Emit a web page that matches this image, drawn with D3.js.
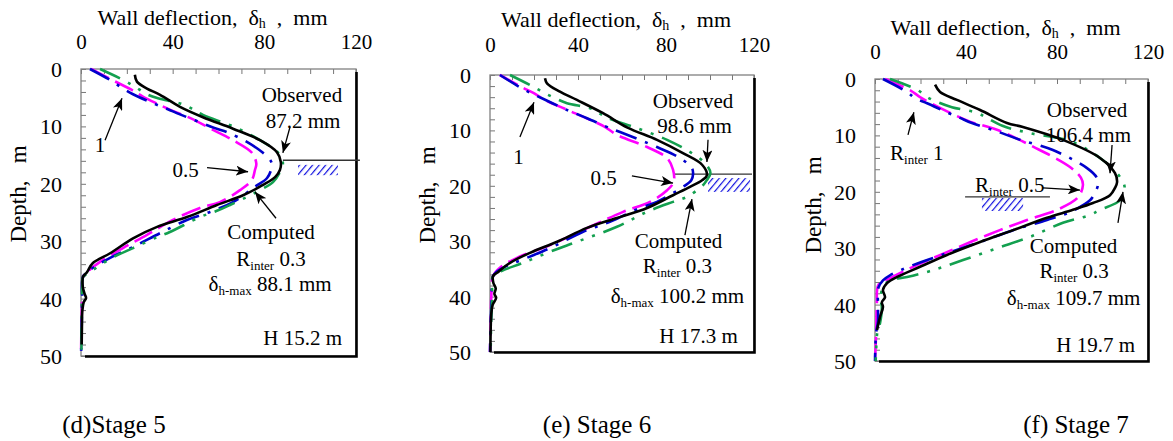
<!DOCTYPE html>
<html><head><meta charset="utf-8">
<script src="https://cdn.jsdelivr.net/npm/d3@7"></script>
<style>
body{margin:0;background:#fff}
svg{display:block}
text{font-family:"Liberation Serif","Times New Roman",serif;fill:#000}
</style>
</head><body>
<svg id="c" width="1173" height="441"></svg>
<script>
// ---------- DATA ----------
const deflectionTicks = [0, 40, 80, 120];
const depthTicks = [0, 10, 20, 30, 40, 50];
const stageLabels = ["(d)Stage 5", "(e) Stage 6", "(f) Stage 7"];
const observedMax = ["87.2 mm", "98.6 mm", "106.4 mm"];
const computedMax = ["88.1 mm", "100.2 mm", "109.7 mm"];
const wallDepth = ["H 15.2 m", "H 17.3 m", "H 19.7 m"];

// [deflection mm, depth m]
const stage5Observed = [[23.5,1.0],[24.4,2.2],[28.8,3.4],[34.5,4.5],[43.2,6.6],[53.2,8.4],[66.3,10.4],[78.1,12.4],[85.5,14.5],[87.2,16.2],[86.8,17.6],[84.8,18.8],[79.4,20.2],[70.7,22.0],[59.3,23.7],[46.2,25.8],[33.2,27.5],[22.7,29.5],[12.7,32.1],[5.2,33.8],[2.6,35.4],[0.9,36.2],[0.8,38.0],[1.6,39.2],[2.2,39.9],[1.2,40.6],[0.6,42.0],[0.4,45.0],[0.3,48.0]];
const stage5R03 = [[8.3,0],[18.4,1.9],[23.6,3.1],[28.8,4.4],[33.6,5.1],[44.1,6.1],[49.3,7.1],[53.2,8.0],[67.5,10.2],[79.4,12.7],[86.0,14.6],[88.1,16.4],[86.5,18.2],[83.8,19.7],[78.1,21.1],[72.4,22.3],[65.0,23.7],[59.3,24.7],[51.9,25.8],[38.8,28.4],[33.2,29.3],[22.7,31.2],[13.5,32.9],[3.1,35.6],[0.9,36.2],[0.5,38.0],[0.3,42.0],[0.2,46.0],[0.2,50.0]];
const stage5R05 = [[4.4,0],[16.0,2.4],[22.0,3.6],[27.0,4.8],[33.0,6.0],[40.0,7.3],[48.0,8.6],[57.6,10.6],[66.3,12.4],[74.6,14.6],[76.5,16.5],[75.9,17.6],[74.6,19.3],[69.4,21.1],[60.6,23.2],[51.9,24.2],[40.1,26.3],[28.8,28.9],[18.3,31.2],[8.3,33.6],[2.6,35.4],[0.9,36.2],[0.5,40.0],[0.2,45.0],[0,50.0]];
const stage5R1 = [[3.9,0],[13.5,2.1],[17.9,3.3],[22.7,4.4],[32.3,6.1],[37.9,7.0],[43.2,7.9],[58.5,10.3],[63.7,11.0],[72.4,12.7],[79.4,14.6],[82.8,16.0],[83.3,16.9],[81.2,19.0],[75.9,20.5],[66.3,23.2],[56.3,24.9],[46.2,26.3],[34.5,28.6],[22.7,31.0],[12.7,32.9],[3.9,35.0],[0.9,36.2],[0.5,40.0],[0.3,45.0],[0,50.0]];

const stage6Observed = [[25.0,0.6],[25.9,1.5],[31.8,3.0],[39.5,4.5],[51.4,6.9],[62.5,9.5],[75.9,11.7],[87.7,14.1],[96.4,16.2],[98.6,18.1],[96.4,19.0],[90.9,20.2],[83.2,21.7],[71.4,24.0],[57.7,25.8],[44.1,27.6],[30.5,30.1],[18.2,32.1],[9.1,33.9],[3.2,35.7],[1.4,36.3],[1.5,37.5],[2.6,38.5],[2.0,39.5],[2.8,40.2],[1.2,41.5],[0.6,43.0],[0.3,46.0],[0.2,50.0]];
const stage6R03 = [[9.1,0],[19.1,2.0],[23.6,3.0],[28.6,4.0],[35.0,5.1],[45.5,6.0],[50.9,7.2],[55.0,8.0],[66.8,9.6],[80.5,11.7],[90.9,13.9],[97.7,15.9],[100.2,17.7],[98.5,19.0],[96.8,19.9],[89.5,22.0],[83.2,22.9],[71.4,24.7],[57.7,27.4],[39.5,30.1],[27.3,31.9],[15.0,33.9],[4.5,35.5],[1.4,36.3],[1.0,40.0],[0.5,45.0],[0.3,50.0]];
const stage6R05 = [[4.5,0],[14.0,2.1],[19.5,3.2],[25.0,4.5],[34.0,6.1],[45.0,8.0],[52.0,9.3],[57.7,10.8],[71.4,13.0],[80.5,15.0],[83.2,17.1],[83.5,19.3],[80.5,20.8],[72.7,22.9],[60.5,24.7],[45.5,27.4],[27.3,30.7],[12.3,33.0],[4.5,34.8],[1.4,36.3],[0.6,40.0],[0.3,45.0],[0,50.0]];
const stage6R1 = [[4.5,0],[12.7,2.0],[18.2,3.2],[23.6,4.2],[33.2,6.0],[38.6,6.9],[44.1,7.8],[54.5,9.6],[59.1,10.3],[75.9,13.0],[86.4,15.0],[91.8,16.8],[92.3,17.9],[91.5,19.0],[87.7,20.2],[75.9,22.9],[68.2,24.0],[54.5,26.5],[42.3,28.3],[28.6,31.0],[16.8,33.0],[5.9,34.8],[1.4,36.3],[0.8,40.0],[0.3,45.0],[0,50.0]];

const stage7Observed = [[26.4,1.0],[28.6,2.3],[36.0,3.7],[46.2,5.5],[58.0,7.8],[65.0,8.5],[82.6,10.8],[98.9,14.0],[105.5,16.7],[106.4,18.3],[105.5,19.3],[103.3,20.6],[95.8,22.0],[87.0,23.2],[75.6,24.6],[60.7,26.8],[46.2,28.9],[31.6,31.2],[19.8,33.3],[9.7,35.1],[5.3,36.2],[3.5,37.4],[4.4,38.7],[3.0,39.6],[3.5,40.4],[2.2,42.2],[0.9,44.5]];
const stage7R03 = [[6.6,0],[18.5,1.9],[22.9,3.2],[28.1,4.2],[33.8,5.0],[44.8,6.0],[49.2,6.9],[56.0,8.3],[68.0,9.6],[85.7,11.0],[98.9,14.0],[106.4,16.7],[109.7,19.1],[107.7,21.5],[98.9,23.2],[94.5,24.1],[82.6,25.5],[68.1,28.0],[53.6,30.0],[38.7,32.1],[25.5,33.9],[14.1,35.1],[6.6,35.7],[3.5,36.9],[2.5,39.0],[3.0,40.5],[2.2,43.3],[1.0,45.0],[0.5,48.0],[0.3,50.0]];
const stage7R05 = [[4.5,0],[15.5,2.0],[19.8,3.2],[26.0,4.6],[34.0,6.2],[42.0,7.6],[53.6,9.0],[69.5,12.0],[85.7,15.6],[90.5,17.5],[91.4,18.8],[89.2,21.0],[80.0,23.2],[66.8,25.0],[49.2,27.7],[31.6,30.7],[16.7,33.3],[5.3,35.6],[1.5,36.5],[0.8,40.0],[0.5,45.0],[0,50.0]];
const stage7R1 = [[3.5,0],[14.1,2.3],[17.6,3.4],[22.9,4.3],[32.1,6.0],[37.4,6.9],[42.6,7.8],[53.0,9.2],[64.0,10.8],[78.2,12.6],[93.2,15.8],[97.5,17.5],[98.0,18.8],[96.5,20.3],[94.5,21.5],[85.7,23.6],[75.6,25.0],[60.7,26.8],[46.2,28.9],[31.6,30.9],[16.7,33.0],[6.6,34.8],[3.5,35.7],[1.5,37.0],[1.3,40.0],[1.3,43.0],[0.5,45.0],[0,50.0]];

// ---------- LAYOUT / STYLE ----------
const seriesStyle = {
  r05: {color:"#ff00ff", w:2.6, dash:"20,7"},
  r1:  {color:"#0000cc", w:2.6, dash:"22,9,3,9"},
  r03: {color:"#13a04f", w:2.6, dash:"22,9,3,9,3,9"},
  observed: {color:"#000000", w:2.6, dash:null}
};

const panels = [
  { box:{l:81,r:356,t:69,b:356}, titleY:25, tickY:49, yTitle:{x:26,y:194}, capX:114,
    series:{r05:stage5R05, r1:stage5R1, r03:stage5R03, observed:stage5Observed},
    texts:[
      {x:96.4,y:5.75,parts:[["Observed"]]},
      {x:96.9,y:10.3,parts:[[observedMax[0]]]},
      {x:45.6,y:18.8,parts:[["0.5"]]},
      {x:8.3,y:14.5,parts:[["1"]]},
      {x:82.9,y:29.6,parts:[["Computed"]]},
      {x:82.9,y:34.4,parts:[["R"],["inter",1],[" 0.3"]]},
      {x:82.5,y:38.7,parts:[["δ"],["h-max",1],[" "+computedMax[0]]]},
      {x:113.9,y:48.1,parts:[[wallDepth[0]]],anchor:"end"}
    ],
    arrows:[[91.2,10.1,88.1,14.6],[55,17.2,72.9,17.9],[10.5,12.4,17.9,5.1],[85.1,26,75.9,21.4]],
    hline:[88.1,121.7,15.9], hatch:[94.7,112.1,16.7,18.5] },
  { box:{l:490,r:754,t:75,b:352}, titleY:27, tickY:52, yTitle:{x:435,y:195}, capX:597,
    series:{r05:stage6R05, r1:stage6R1, r03:stage6R03, observed:stage6Observed},
    texts:[
      {x:92.3,y:6.0,parts:[["Observed"]]},
      {x:93,y:10.5,parts:[[observedMax[1]]]},
      {x:51.6,y:19.9,parts:[["0.5"]]},
      {x:13,y:16.1,parts:[["1"]]},
      {x:85.7,y:31.2,parts:[["Computed"]]},
      {x:85.2,y:35.7,parts:[["R"],["inter",1],[" 0.3"]]},
      {x:85.2,y:41.2,parts:[["δ"],["h-max",1],[" "+computedMax[1]]]},
      {x:112.7,y:48.4,parts:[[wallDepth[1]]],anchor:"end"}
    ],
    arrows:[[99.1,11.7,98.6,15.7],[64.5,18.2,83.2,19.5],[13.6,11.2,20,4.9],[88.6,28.9,91.8,22.4]],
    hline:[83.2,119.1,17.9], hatch:[99.1,118.2,18.6,21.1] },
  { box:{l:875,r:1148,t:79,b:361}, titleY:35, tickY:59, yTitle:{x:821,y:205}, capX:1076,
    series:{r05:stage7R05, r1:stage7R1, r03:stage7R03, observed:stage7Observed},
    texts:[
      {x:93.2,y:6.7,parts:[["Observed"]]},
      {x:93.8,y:11.2,parts:[[observedMax[2]]]},
      {x:6.6,y:14.4,parts:[["R"],["inter",1],[" 1"]],anchor:"start"},
      {x:44,y:20,parts:[["R"],["inter",1],[" 0.5"]],anchor:"start"},
      {x:87.3,y:30.9,parts:[["Computed"]]},
      {x:87.5,y:35.3,parts:[["R"],["inter",1],[" 0.3"]]},
      {x:87.3,y:40.1,parts:[["δ"],["h-max",1],[" "+computedMax[2]]]},
      {x:114.3,y:48.4,parts:[[wallDepth[2]]],anchor:"end"}
    ],
    arrows:[[104.2,11.7,103.3,16.7],[14.5,9.9,17.1,5.9],[73.8,19.3,90.1,19.7],[106.8,25.5,109,20]],
    hline:[39.6,76.9,20.9], hatch:[47,65.1,21.1,23.4] }
];

// ---------- DRAW ----------
const svg = d3.select("#c");
const defs = svg.append("defs");
defs.append("marker").attr("id","ah").attr("viewBox","0 0 12 10")
  .attr("refX",12).attr("refY",5).attr("markerWidth",12).attr("markerHeight",10)
  .attr("markerUnits","userSpaceOnUse").attr("orient","auto")
  .append("path").attr("d","M0,0 L12,5 L0,10 L3,5 z").attr("fill","#000");
const pat = defs.append("pattern").attr("id","hatch").attr("patternUnits","userSpaceOnUse")
  .attr("width",5).attr("height",5).attr("patternTransform","rotate(40)");
pat.append("line").attr("x1",0).attr("y1",0).attr("x2",0).attr("y2",5)
  .attr("stroke","#1010e0").attr("stroke-width",2.4);

function addText(g, x, y, parts, anchor, size, subSize, subDy){
  const t = g.append("text").attr("x",x).attr("y",y)
    .attr("text-anchor",anchor||"middle").attr("font-size",size||21)
    .attr("xml:space","preserve");
  let sub = false;
  const sd = subDy || 4;
  parts.forEach(p=>{
    const s = t.append("tspan").text(p[0]);
    if (p[1]) { s.attr("font-size",subSize||14).attr("dy",sd); sub = true; }
    else if (sub) { s.attr("dy",-sd); sub = false; }
  });
  return t;
}

panels.forEach((p, i) => {
  const b = p.box;
  const x = d3.scaleLinear().domain([0,120]).range([b.l,b.r]);
  const y = d3.scaleLinear().domain([0,50]).range([b.t,b.b]);
  const g = svg.append("g");

  // minor ticks (inward)
  g.append("g").attr("transform",`translate(0,${b.t})`)
    .call(d3.axisBottom(x).tickValues(d3.range(0,121,10)).tickSize(5).tickFormat(""))
    .call(a=>{a.select(".domain").remove(); a.selectAll("line").attr("stroke","#777");});
  g.append("g").attr("transform",`translate(${b.l},0)`)
    .call(d3.axisRight(y).tickValues(d3.range(0,51,2)).tickSize(5).tickFormat(""))
    .call(a=>{a.select(".domain").remove(); a.selectAll("line").attr("stroke","#777");});

  // tick labels
  g.append("g").attr("transform",`translate(0,${p.tickY})`)
    .call(d3.axisTop(x).tickValues(deflectionTicks).tickSize(0).tickPadding(0))
    .call(a=>{a.select(".domain").remove();
      a.selectAll("text").attr("font-size",21).attr("font-family","Liberation Serif").attr("fill","#000").attr("dy",0);});
  g.append("g").attr("transform",`translate(${b.l-19},0)`)
    .call(d3.axisLeft(y).tickValues(depthTicks).tickSize(0).tickPadding(0))
    .call(a=>{a.select(".domain").remove();
      a.selectAll("text").attr("font-size",22).attr("font-family","Liberation Serif").attr("fill","#000").attr("dy","0.34em");});

  // frame: gray top/left, black shadow right/bottom
  g.append("rect").attr("x",b.l).attr("y",b.t).attr("width",b.r-b.l).attr("height",b.b-b.t)
    .attr("fill","none").attr("stroke","#808080").attr("stroke-width",1.3);
  g.append("path").attr("d",`M${b.r+0.5},${b.t+3} V${b.b+0.5} H${b.l+4}`)
    .attr("fill","none").attr("stroke","#000").attr("stroke-width",2.6);

  // hatch + level line
  const h = p.hatch;
  g.append("rect").attr("x",x(h[0])).attr("y",y(h[2])).attr("width",x(h[1])-x(h[0])).attr("height",y(h[3])-y(h[2]))
    .attr("fill","url(#hatch)");
  g.append("line").attr("x1",x(p.hline[0])).attr("x2",x(p.hline[1])).attr("y1",y(p.hline[2])).attr("y2",y(p.hline[2]))
    .attr("stroke","#333").attr("stroke-width",1.3);

  // curves
  const line = d3.line().x(d=>x(d[0])).y(d=>y(d[1])).curve(d3.curveCatmullRom.alpha(0.5));
  Object.keys(p.series).forEach(k=>{
    const st = seriesStyle[k];
    g.append("path").datum(p.series[k]).attr("d",line)
      .attr("fill","none").attr("stroke",st.color).attr("stroke-width",st.w)
      .attr("stroke-dasharray",st.dash).attr("stroke-linejoin","round");
  });

  // arrows
  p.arrows.forEach(a=>{
    g.append("line").attr("x1",x(a[0])).attr("y1",y(a[1])).attr("x2",x(a[2])).attr("y2",y(a[3]))
      .attr("stroke","#000").attr("stroke-width",1.3).attr("marker-end","url(#ah)");
  });

  // annotation texts
  p.texts.forEach(t=> addText(g, x(t.x), y(t.y), t.parts, t.anchor, 21, 13, 4));

  // axis titles
  addText(g, (b.l+b.r)/2 - 6, p.titleY, [["Wall deflection,  δ"],["h",1],["  ,  mm"]], "middle", 22, 14, 3);
  g.append("text").attr("transform",`translate(${p.yTitle.x},${p.yTitle.y}) rotate(-90)`)
    .attr("text-anchor","middle").attr("font-size",23).attr("xml:space","preserve").text("Depth,   m");

  // caption
  addText(g, p.capX, 433, [[stageLabels[i]]], "middle", 25);
});
</script>
</body></html>
